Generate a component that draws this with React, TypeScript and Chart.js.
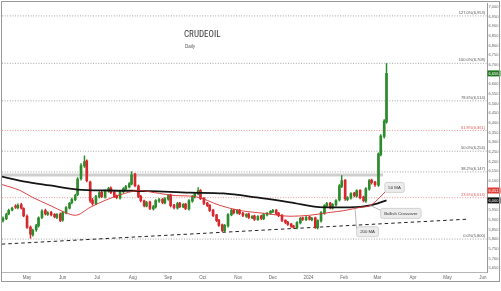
import React, { useEffect, useRef } from 'react';
import { Chart, registerables } from 'chart.js';
Chart.register(...registerables);

// ---------- DATA ----------
const MONTH_LABELS = ['May', 'Jun', 'Jul', 'Aug', 'Sep', 'Oct', 'Nov', 'Dec', '2024', 'Feb', 'Mar', 'Apr', 'May', 'Jun'];
// day offsets from 1 May 2023
const MONTH_DAYS = [0, 31, 61, 92, 123, 153, 184, 214, 245, 276, 305, 336, 366, 397];
const PRICE_TICKS = [5650, 5700, 5750, 5800, 5850, 5900, 5950, 6000, 6050, 6100, 6150, 6200, 6250, 6300, 6350, 6400, 6450, 6500, 6550, 6600, 6650, 6700, 6750, 6800, 6850, 6900, 6950, 7000];

const CANDLE_DAYS = [
  -21, -18, -16, -13, -10, -8, -5, -3, 0, 3,
  5, 8, 10, 13, 16, 18, 21, 24, 26, 29,
  31, 34, 37, 39, 42, 44, 47, 50, 52, 55,
  57, 60, 63, 65, 68, 71, 73, 76, 78, 81,
  84, 86, 89, 91, 94, 97, 99, 102, 104, 107,
  110, 112, 115, 118, 120, 123, 125, 128, 131, 133,
  136, 138, 141, 144, 146, 149, 151, 154, 157, 159,
  162, 165, 167, 170, 172, 175, 178, 180, 183, 185,
  188, 191, 193, 196, 198, 201, 204, 206, 209, 212,
  214, 217, 219, 222, 225, 227, 230, 232, 235, 238,
  240, 243, 246, 248, 251, 253, 256, 259, 261, 264,
  266, 269, 272, 274, 277, 279, 282, 285, 287, 290,
  293, 295, 298, 300, 303, 306, 308, 311, 313,
];
const OPENS = [
  5895, 5905, 5930, 5950, 5970, 5962, 5978, 5958, 5918, 5862,
  5822, 5848, 5868, 5912, 5948, 5928, 5938, 5928, 5912, 5930,
  5898, 5935, 5960, 5988, 6003, 6030, 6112, 6178, 6204, 6095,
  6002, 5982, 6018, 6042, 6018, 6048, 6064, 6042, 6024, 6012,
  6044, 6060, 6069, 6084, 6136, 6074, 6022, 5998, 5970, 5992,
  5956, 5966, 5996, 6006, 5987, 6006, 6028, 5976, 5960, 5986,
  5966, 5981, 5955, 5996, 6018, 6033, 6052, 6012, 5986, 5975,
  5950, 5925, 5898, 5874, 5843, 5868, 5925, 5950, 5935, 5950,
  5934, 5918, 5930, 5910, 5920, 5900, 5920, 5905, 5925, 5934,
  5941, 5950, 5935, 5924, 5898, 5888, 5878, 5868, 5858, 5884,
  5910, 5900, 5915, 5900, 5910, 5858, 5894, 5935, 5970, 5986,
  5960, 5977, 6002, 6072, 6105, 6004, 6012, 6038, 6022, 6052,
  6018, 5996, 6058, 6105, 6095, 6078, 6236, 6330, 6405,
];
const HIGHS = [
  5915, 5934, 5955, 5966, 5978, 5982, 5985, 5962, 5925, 5868,
  5852, 5876, 5915, 5952, 5955, 5942, 5944, 5932, 5932, 5935,
  5942, 5968, 5990, 6012, 6032, 6118, 6190, 6230, 6210, 6100,
  6010, 6026, 6046, 6048, 6055, 6068, 6070, 6048, 6028, 6050,
  6066, 6078, 6092, 6148, 6140, 6080, 6026, 6002, 5995, 5996,
  5974, 6004, 6010, 6010, 6014, 6030, 6032, 5980, 5990, 5990,
  5984, 5985, 6004, 6025, 6040, 6066, 6056, 6015, 5990, 5978,
  5954, 5928, 5902, 5878, 5876, 5932, 5954, 5954, 5953, 5954,
  5938, 5932, 5934, 5922, 5924, 5922, 5924, 5932, 5938, 5948,
  5954, 5953, 5938, 5927, 5900, 5892, 5882, 5872, 5890, 5912,
  5914, 5917, 5918, 5912, 5914, 5900, 5942, 5978, 5990, 5990,
  5984, 6004, 6082, 6128, 6108, 6020, 6040, 6042, 6055, 6056,
  6022, 6066, 6108, 6110, 6098, 6246, 6340, 6418, 6707,
];
const LOWS = [
  5888, 5900, 5925, 5945, 5958, 5956, 5955, 5915, 5855, 5804,
  5815, 5840, 5862, 5906, 5924, 5922, 5920, 5910, 5906, 5890,
  5892, 5930, 5955, 5982, 5998, 6024, 6105, 6170, 6095, 5990,
  5975, 5978, 6012, 6014, 6012, 6042, 6035, 6015, 6008, 6006,
  6038, 6054, 6064, 6080, 6070, 6014, 5992, 5966, 5966, 5952,
  5950, 5960, 5990, 5982, 5982, 6000, 5966, 5956, 5955, 5962,
  5962, 5952, 5950, 5990, 6012, 6028, 6004, 5978, 5968, 5942,
  5916, 5890, 5865, 5838, 5838, 5862, 5920, 5930, 5930, 5926,
  5916, 5912, 5906, 5905, 5896, 5896, 5900, 5900, 5920, 5928,
  5936, 5926, 5916, 5890, 5880, 5870, 5860, 5855, 5852, 5878,
  5896, 5895, 5898, 5894, 5855, 5852, 5888, 5928, 5964, 5956,
  5955, 5970, 5996, 6066, 6000, 5998, 6006, 6018, 6016, 6008,
  5992, 5990, 6052, 6084, 6072, 6072, 6230, 6322, 6398,
];
const CLOSES = [
  5907, 5927, 5948, 5960, 5965, 5975, 5960, 5920, 5860, 5825,
  5845, 5870, 5910, 5945, 5930, 5935, 5925, 5915, 5927, 5896,
  5937, 5963, 5985, 6005, 6025, 6110, 6180, 6200, 6102, 5999,
  5984, 6020, 6040, 6020, 6050, 6061, 6040, 6020, 6014, 6045,
  6061, 6071, 6086, 6132, 6076, 6020, 5999, 5973, 5989, 5958,
  5968, 5999, 6004, 5989, 6009, 6025, 5973, 5963, 5984, 5968,
  5979, 5958, 5999, 6020, 6035, 6050, 6009, 5984, 5973, 5948,
  5922, 5896, 5871, 5845, 5871, 5927, 5948, 5937, 5948, 5932,
  5922, 5927, 5912, 5917, 5902, 5917, 5907, 5927, 5932, 5943,
  5948, 5932, 5922, 5896, 5886, 5876, 5866, 5861, 5886, 5907,
  5902, 5912, 5902, 5907, 5861, 5896, 5937, 5973, 5984, 5963,
  5979, 5999, 6076, 6102, 6009, 6014, 6035, 6025, 6050, 6014,
  5999, 6061, 6102, 6092, 6081, 6240, 6333, 6410, 6656,
];

const MA200_DAYS = [-22, -2, 20, 44, 72, 107, 142, 171, 200, 229, 258, 281, 299, 313];
const MA200_VALUES = [6123, 6097, 6077, 6056, 6051, 6048, 6040, 6036, 6015, 5990, 5964, 5964, 5974, 6000];

const MA50_DAYS = [-22, -6, 5, 20, 33, 42, 55, 68, 85, 98, 111, 129, 146, 168, 185, 207, 229, 246, 264, 277, 290, 299, 307, 313];
const MA50_VALUES = [6082, 6051, 6015, 5974, 5938, 5923, 5964, 6000, 6036, 6051, 6040, 6025, 6020, 5974, 5948, 5933, 5918, 5923, 5938, 5948, 5964, 5974, 6015, 6051];

const TREND_DAYS = [-22, 384];
const TREND_VALUES = [5774, 5903];

const BAND_DAYS = [-22, 310];
const BAND_VALUES = [6131, 6131];

const FIB_PCTS = ['127.0%', '100.0%', '78.6%', '61.8%', '50.0%', '38.2%', '23.6%', '0.0%'];
const FIB_VALUES = [6953, 6708, 6514, 6361, 6254, 6147, 6014, 5800];

const NOTE_TEXTS = ['50 MA', 'Bullish Crossover', '200 MA'];
const NOTE_DAYS = [320, 325.5, 296.5];
const NOTE_VALUES = [6067, 5933, 5838];
const NOTE_TARGET_DAYS = [NaN, 299, 285.5];
const NOTE_TARGET_VALUES = [NaN, 5974, 5964];

const TITLE = 'CRUDEOIL';
const SUBTITLE = 'Daily';

// ---------- STYLE ----------
const X_MIN = -21.8;
const X_MAX = 400.5;
const Y_MIN = 5630;
const Y_MAX = 7015;
const GREEN = '#2c8c2c';
const RED = '#d8262b';
const FONT = '"Liberation Sans", Arial, sans-serif';
const fmt = (v: number) => Math.round(v).toLocaleString('en-US');

const overlayPlugin = {
  id: 'overlay',
  afterDatasetsDraw(chart: any) {
    const { ctx, chartArea, scales } = chart;
    const xs = scales.x;
    const ys = scales.y;
    ctx.save();
    // fib labels
    ctx.font = `4px ${FONT}`;
    ctx.textAlign = 'right';
    ctx.textBaseline = 'bottom';
    FIB_VALUES.forEach((v, i) => {
      const y = ys.getPixelForValue(v);
      const isRed = FIB_PCTS[i] === '61.8%' || FIB_PCTS[i] === '23.6%';
      ctx.fillStyle = isRed ? '#e05a5a' : '#555';
      ctx.fillText(`${FIB_PCTS[i]}(${fmt(v)})`, chartArea.right - 2, y - 1);
    });

    // annotation notes
    ctx.font = `4.3px ${FONT}`;
    NOTE_TEXTS.forEach((t, i) => {
      const cx = xs.getPixelForValue(NOTE_DAYS[i]);
      const cy = ys.getPixelForValue(NOTE_VALUES[i]);
      const w = ctx.measureText(t).width + 7;
      const h = 10;
      const x0 = cx - w / 2;
      const y0 = cy - h / 2;
      if (!isNaN(NOTE_TARGET_DAYS[i])) {
        const tx = xs.getPixelForValue(NOTE_TARGET_DAYS[i]);
        const ty = ys.getPixelForValue(NOTE_TARGET_VALUES[i]);
        ctx.strokeStyle = '#a8a8a8';
        ctx.lineWidth = 0.8;
        ctx.beginPath();
        ctx.moveTo(tx, ty);
        ctx.lineTo(x0, y0 + 2);
        ctx.stroke();
      }
      const r = 2;
      ctx.beginPath();
      ctx.moveTo(x0 + r, y0);
      ctx.lineTo(x0 + w - r, y0);
      ctx.quadraticCurveTo(x0 + w, y0, x0 + w, y0 + r);
      ctx.lineTo(x0 + w, y0 + h - r);
      ctx.quadraticCurveTo(x0 + w, y0 + h, x0 + w - r, y0 + h);
      ctx.lineTo(x0 + r, y0 + h);
      ctx.quadraticCurveTo(x0, y0 + h, x0, y0 + h - r);
      ctx.lineTo(x0, y0 + r);
      ctx.quadraticCurveTo(x0, y0, x0 + r, y0);
      ctx.closePath();
      ctx.fillStyle = '#ececec';
      ctx.fill();
      ctx.strokeStyle = '#c9c9c9';
      ctx.lineWidth = 0.8;
      ctx.stroke();
      ctx.fillStyle = '#333';
      ctx.textAlign = 'center';
      ctx.textBaseline = 'middle';
      ctx.fillText(t, cx, cy + 0.3);
    });
    ctx.restore();
  },
  afterDraw(chart: any) {
    const { ctx, chartArea, scales } = chart;
    const ys = scales.y;
    ctx.save();
    // price tags
    const tags = [
      { v: CLOSES[CLOSES.length - 1], c: '#1f7a1f' },
      { v: MA50_VALUES[MA50_VALUES.length - 1], c: '#e53935' },
      { v: MA200_VALUES[MA200_VALUES.length - 1], c: '#111' },
    ];
    ctx.font = `4px ${FONT}`;
    ctx.textAlign = 'left';
    ctx.textBaseline = 'middle';
    tags.forEach((t) => {
      const y = ys.getPixelForValue(t.v);
      ctx.fillStyle = t.c;
      ctx.fillRect(chartArea.right + 0.5, y - 3, 13, 6);
      ctx.fillStyle = '#fff';
      ctx.fillText(fmt(t.v), chartArea.right + 1.5, y + 0.2);
    });
    // title
    ctx.fillStyle = '#3a3a3a';
    ctx.textAlign = 'left';
    ctx.textBaseline = 'middle';
    ctx.font = `9px "Liberation Sans Narrow", "Roboto Condensed", ${FONT}`;
    ctx.fillText(TITLE, 184, 35);
    ctx.font = `4.5px ${FONT}`;
    ctx.fillStyle = '#555';
    ctx.fillText(SUBTITLE, 185, 47);
    // frame
    ctx.strokeStyle = '#9a9a9a';
    ctx.lineWidth = 1;
    ctx.strokeRect(1.5, 1.5, 498, 280);
    ctx.restore();
  },
};

export default function App() {
  const ref = useRef<HTMLCanvasElement | null>(null);
  useEffect(() => {
    document.body.style.margin = '0';
    const canvas = ref.current;
    if (!canvas) return;
    const candleColors = CANDLE_DAYS.map((_, i) => (CLOSES[i] >= OPENS[i] ? GREEN : RED));
    const wicks = CANDLE_DAYS.map((d, i) => ({ x: d, y: [LOWS[i], HIGHS[i]] }));
    const bodies = CANDLE_DAYS.map((d, i) => ({ x: d, y: [OPENS[i], CLOSES[i]] }));

    const fibSets = FIB_VALUES.map((v, i) => {
      const isRed = FIB_PCTS[i] === '61.8%' || FIB_PCTS[i] === '23.6%';
      return {
        type: 'line',
        data: [{ x: X_MIN, y: v }, { x: X_MAX, y: v }],
        borderColor: isRed ? '#e58080' : '#8c8c8c',
        borderWidth: 0.8,
        borderDash: [1, 1.6],
        pointRadius: 0,
        order: 6,
      };
    });

    const chart = new Chart(canvas, {
      type: 'bar',
      data: {
        datasets: [
          ...fibSets,
          {
            type: 'line',
            data: BAND_DAYS.map((d, i) => ({ x: d, y: BAND_VALUES[i] })),
            borderColor: '#cfcfcf',
            borderWidth: 3,
            pointRadius: 0,
            order: 5,
          },
          {
            type: 'line',
            data: TREND_DAYS.map((d, i) => ({ x: d, y: TREND_VALUES[i] })),
            borderColor: '#222',
            borderWidth: 1,
            borderDash: [3.5, 3],
            pointRadius: 0,
            order: 4,
          },
          {
            type: 'bar',
            data: wicks,
            backgroundColor: candleColors,
            barThickness: 0.8,
            grouped: false,
            minBarLength: 1,
            order: 3,
          },
          {
            type: 'bar',
            data: bodies,
            backgroundColor: candleColors,
            barThickness: 2,
            grouped: false,
            minBarLength: 1,
            order: 2,
          },
          {
            type: 'line',
            data: MA200_DAYS.map((d, i) => ({ x: d, y: MA200_VALUES[i] })),
            borderColor: '#151515',
            borderWidth: 1.8,
            pointRadius: 0,
            cubicInterpolationMode: 'monotone',
            order: 1,
          },
          {
            type: 'line',
            data: MA50_DAYS.map((d, i) => ({ x: d, y: MA50_VALUES[i] })),
            borderColor: '#d93030',
            borderWidth: 0.9,
            pointRadius: 0,
            cubicInterpolationMode: 'monotone',
            order: 0,
          },
        ] as any,
      },
      options: {
        animation: false,
        responsive: false,
        devicePixelRatio: 1,
        events: [],
        layout: { padding: { left: 2, top: 2, right: 0, bottom: 0 } },
        plugins: { legend: { display: false }, tooltip: { enabled: false }, title: { display: false } },
        scales: {
          x: {
            type: 'linear',
            min: X_MIN,
            max: X_MAX,
            offset: false,
            grid: { display: false, drawTicks: false },
            border: { display: true, color: '#b5b5b5' },
            afterBuildTicks: (scale: any) => {
              scale.ticks = MONTH_DAYS.map((v) => ({ value: v }));
            },
            afterFit: (scale: any) => {
              scale.height = 19;
            },
            ticks: {
              autoSkip: false,
              maxRotation: 0,
              minRotation: 0,
              padding: 3,
              color: '#666',
              font: { size: 4.5, family: FONT },
              callback: (_v: any, i: number) => MONTH_LABELS[i],
            },
          },
          y: {
            type: 'linear',
            position: 'right',
            min: Y_MIN,
            max: Y_MAX,
            grid: { display: false, drawTicks: false },
            border: { display: true, color: '#9a9a9a' },
            afterBuildTicks: (scale: any) => {
              scale.ticks = PRICE_TICKS.map((v) => ({ value: v }));
            },
            afterFit: (scale: any) => {
              scale.width = 14;
            },
            ticks: {
              autoSkip: false,
              padding: 1.5,
              color: '#666',
              font: { size: 4, family: FONT },
              callback: (v: any) => fmt(Number(v)),
            },
          },
        },
      } as any,
      plugins: [overlayPlugin],
    });
    return () => chart.destroy();
  }, []);
  return <canvas ref={ref} width={501} height={291} style={{ display: 'block' }} />;
}
